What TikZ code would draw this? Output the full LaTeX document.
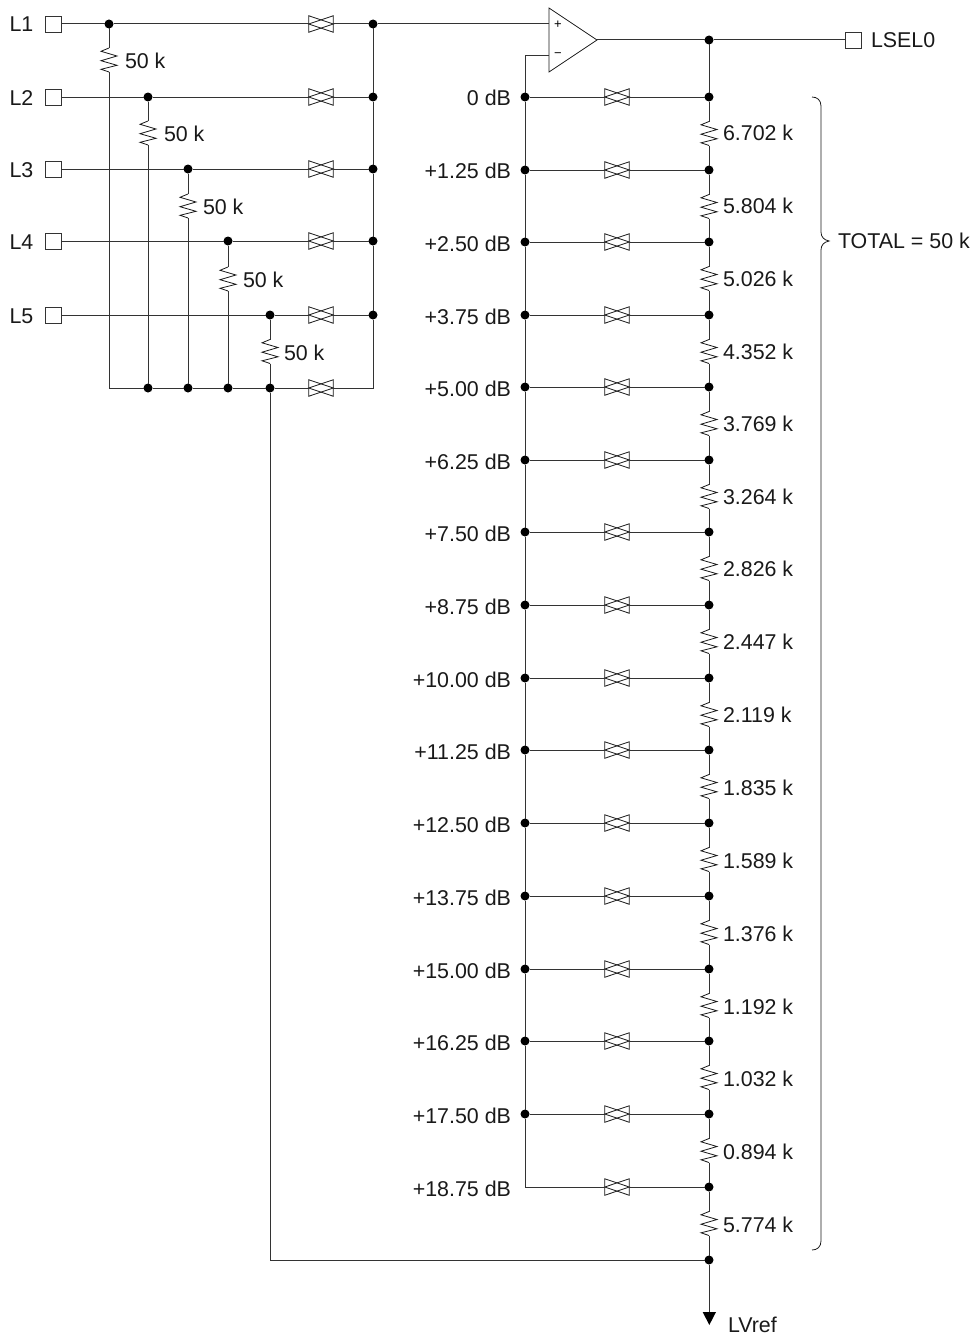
\documentclass[tikz,border=0pt]{standalone}
\usepackage{fontspec}
\setmainfont{Liberation Sans}
\tikzset{
  wire/.style={line width=1pt,color=black!80},
  dotnode/.style={circle,fill=black,draw=none,inner sep=0pt,minimum size=9pt,outer sep=0pt},
  padbox/.style={rectangle,draw=black!80,line width=0.8pt,fill=white,inner sep=0pt,outer sep=0pt,minimum width=16pt,minimum height=16pt},
  gatebox/.style={rectangle,inner sep=0pt,outer sep=0pt,minimum width=24.5pt,minimum height=16.5pt},
  resbox/.style={rectangle,inner sep=0pt,outer sep=0pt,minimum width=16pt,minimum height=24pt},
  symline/.style={line width=0.8pt,color=black!90,line join=miter},
  lab/.style={inner sep=0pt,outer sep=0pt,font=\fontsize{21.4}{24}\selectfont,text=black!90},
  labw/.style={lab,anchor=base west},
  labe/.style={lab,anchor=base east},
}
\newcommand{\tgate}[3]{%
  \node[gatebox] (#1) at (#2,#3) {};
  \draw[symline] (#1.north west) -- (#1.south west) -- (#1.east) -- cycle;
  \draw[symline] (#1.north east) -- (#1.south east) -- (#1.west) -- cycle;
}
\newcommand{\resist}[3]{%
  \node[resbox] (#1) at (#2,#3) {};
  \draw[symline] (#1.north) -- ++(-8,3.3) -- ++(16,4.7) -- ++(-16,4.7) -- ++(16,4.6) -- ++(-16,4.0) -- (#1.south);
}
\begin{document}
\begin{tikzpicture}[x=1pt,y=-1pt]
\useasboundingbox (0,0) rectangle (973,1338);
% input pads, junctions and left network
\foreach \n/\y/\xd/\ry/\lx in {1/24/109/60/125,2/97/148/133/164,3/169/188/206/203,4/241/228/279/243,5/315/270/351.5/284}{
  \node[padbox] (pad\n) at (53,\y) {};
  \node[labw] at (9.5,\y+8) {L\n};
  \node[dotnode] (a\n) at (\xd,\y) {};
  \node[dotnode] (b\n) at (373,\y) {};
  \tgate{sw\n}{321}{\y}
  \resist{ra\n}{\xd}{\ry}
  \node[labw] at (\lx,\ry+8.5) {50 k};
  \draw[wire] (pad\n) -- (a\n);
  \draw[wire] (a\n) -- (sw\n.west);
  \draw[wire] (sw\n.east) -- (b\n);
  \draw[wire] (a\n) -- (ra\n.north);
}
\coordinate (cornerL) at (109,388);
\coordinate (cornerR) at (373,388);
\node[dotnode] (c2) at (148,388) {};
\node[dotnode] (c3) at (188,388) {};
\node[dotnode] (c4) at (228,388) {};
\node[dotnode] (c5) at (270,388) {};
\tgate{sw6}{321}{388}
\draw[wire] (ra1.south) -- (cornerL) -- (c2);
\draw[wire] (ra2.south) -- (c2);
\draw[wire] (ra3.south) -- (c3);
\draw[wire] (ra4.south) -- (c4);
\draw[wire] (ra5.south) -- (c5);
\draw[wire] (c2) -- (c3);
\draw[wire] (c3) -- (c4);
\draw[wire] (c4) -- (c5);
\draw[wire] (c5) -- (sw6.west);
\draw[wire] (sw6.east) -- (cornerR) -- (b5);
\draw[wire] (b5) -- (b4);
\draw[wire] (b4) -- (b3);
\draw[wire] (b3) -- (b2);
\draw[wire] (b2) -- (b1);
% amplifier
\coordinate (ampP) at (549,24);
\coordinate (ampN) at (549,56);
\coordinate (ampO) at (597,40);
\draw[symline] (549,8) -- (ampO) -- (549,72) -- cycle;
\node[inner sep=0pt,font=\fontsize{13}{14}\selectfont] at (558,24.5) {+};
\node[inner sep=0pt,font=\fontsize{13}{14}\selectfont] at (558,55.5) {\symbol{"2212}};
\draw[wire] (b1) -- (ampP);
\node[dotnode] (out) at (709,40) {};
\node[padbox] (padout) at (853,40) {};
\node[labw] at (871,47.5) {LSEL0};
\draw[wire] (ampO) -- (out);
\draw[wire] (out) -- (padout);
% ladder
\node[dotnode] (r17) at (709,1260) {};
\foreach \n/\y in {1/97,2/170,3/242,4/315,5/387,6/460,7/532,8/605,9/678,10/750,11/823,12/896,13/969,14/1041,15/1114,16/1187}{
  \node[dotnode] (r\n) at (709,\y) {};
  \tgate{gt\n}{617}{\y}
}
\foreach \n/\y in {1/97,2/170,3/242,4/315,5/387,6/460,7/532,8/605,9/678,10/750,11/823,12/896,13/969,14/1041,15/1114}{
  \node[dotnode] (l\n) at (525,\y) {};
  \draw[wire] (l\n) -- (gt\n.west);
}
\coordinate (l16) at (525,1187);
\draw[wire] (l16) -- (gt16.west);
\foreach \n/\y/\db/\k/\ofa/\ofb in {1/97/0 dB/6.702 k/8/43.5,2/170/+1.25 dB/5.804 k/8/43.5,3/242/+2.50 dB/5.026 k/9.5/44.5,4/315/+3.75 dB/4.352 k/9.5/44.5,5/387/+5.00 dB/3.769 k/9.5/44.5,6/460/+6.25 dB/3.264 k/9.5/44.5,7/532/+7.50 dB/2.826 k/9.5/44.5,8/605/+8.75 dB/2.447 k/9.5/44.5,9/678/+10.00 dB/2.119 k/9.5/44.5,10/750/+11.25 dB/1.835 k/9.5/45,11/823/+12.50 dB/1.589 k/9.5/45,12/896/+13.75 dB/1.376 k/9.5/45,13/969/+15.00 dB/1.192 k/9.5/45,14/1041/+16.25 dB/1.032 k/9.5/45,15/1114/+17.50 dB/0.894 k/9.5/45,16/1187/+18.75 dB/5.774 k/9.5/45}{
  \pgfmathtruncatemacro{\nx}{\n+1}
  \resist{rs\n}{709}{\y+36.5}
  \node[labe] at (511,\y+\ofa) {\db};
  \node[labw] at (723,\y+\ofb) {\k};
  \draw[wire] (gt\n.east) -- (r\n);
  \draw[wire] (r\n) -- (rs\n.north);
  \draw[wire] (rs\n.south) -- (r\nx);
}
\foreach \n/\m in {1/2,2/3,3/4,4/5,5/6,6/7,7/8,8/9,9/10,10/11,11/12,12/13,13/14,14/15,15/16}{
  \draw[wire] (l\n) -- (l\m);
}
\coordinate (ampNc) at (525,56);
\draw[wire] (l1) -- (ampNc) -- (ampN);
\draw[wire] (out) -- (r1);
% return wire and LVref
\coordinate (retc) at (270,1260);
\draw[wire] (c5) -- (retc) -- (r17);
\coordinate (tipb) at (709,1312);
\draw[wire] (r17) -- (tipb);
\fill[black] (702.7,1312) -- (716,1312) -- (709.3,1325) -- cycle;
\node[labw] at (728,1332) {LVref};
% brace
\draw[symline] (812,97) .. controls (817,97) and (821,100) .. (821,106) -- (821,232) .. controls (821,237) and (824,240) .. (829,241) .. controls (824,242) and (821,245) .. (821,250) -- (821,1241) .. controls (821,1247) and (817,1250) .. (812,1250);
\node[labw] at (838,248.5) {TOTAL = 50 k};
\end{tikzpicture}
\end{document}
